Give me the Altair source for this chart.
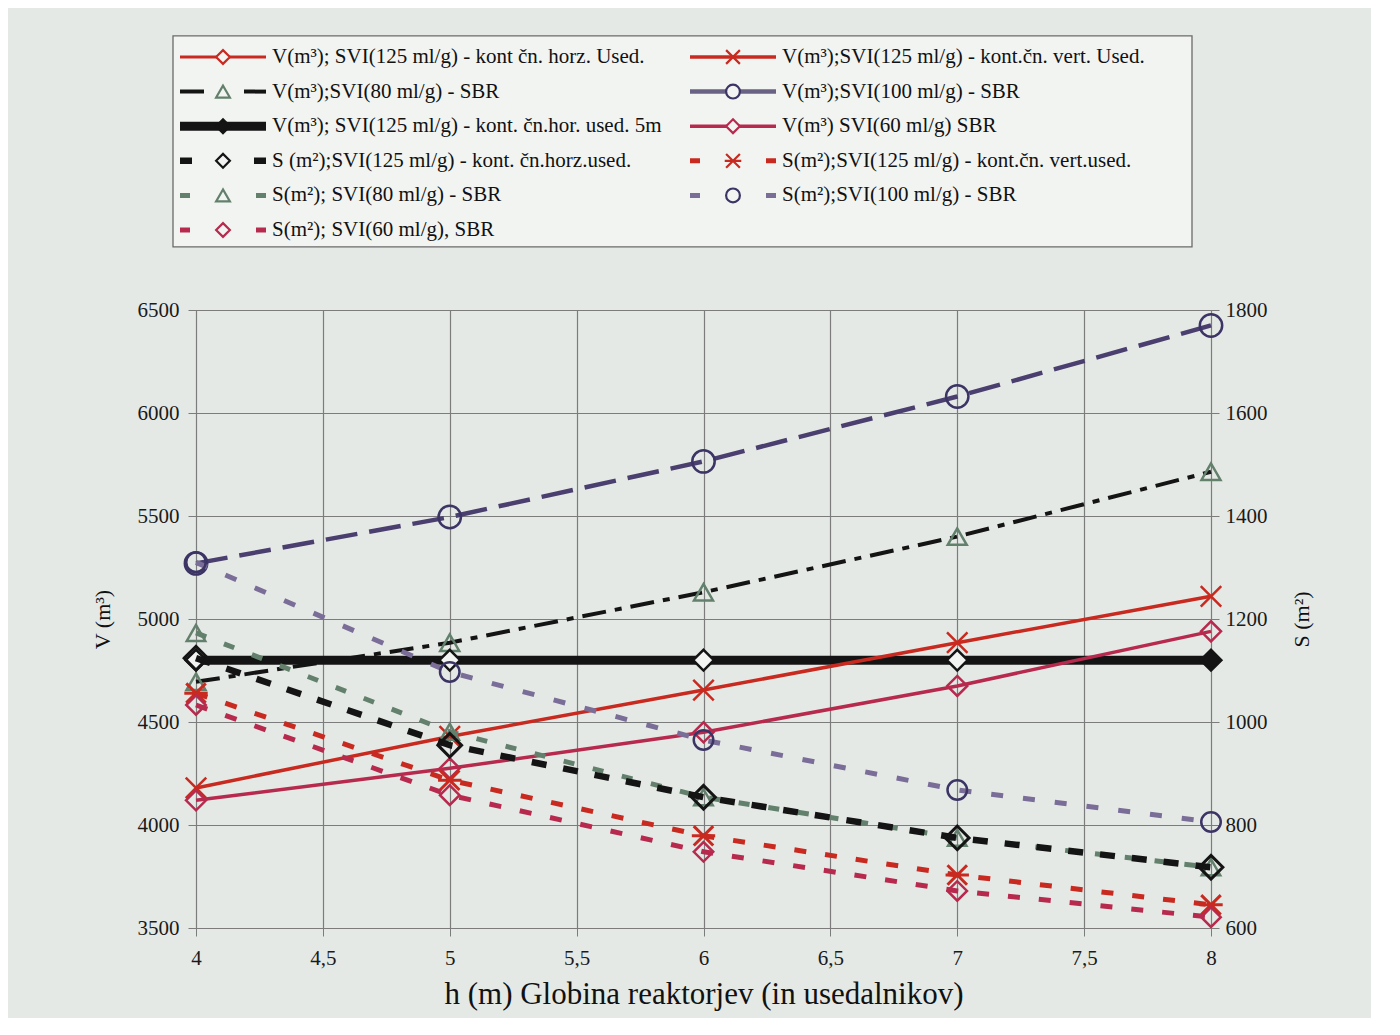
import altair as alt
import pandas as pd

# ---------------- data ----------------
H = [4, 5, 6, 7, 8]

# V (m3) - left axis
V_HORZ_125 = [4800, 4800, 4800, 4800, 4800]      # lies under the thick black line
V_SBR_80 = [4695, 4885, 5130, 5400, 5715]
V_HORZ_125_5M = [4800, 4800, 4800, 4800, 4800]
V_VERT_125 = [4180, 4430, 4655, 4885, 5110]
V_SBR_100 = [5270, 5495, 5765, 6080, 6425]
V_SBR_60 = [4120, 4275, 4450, 4675, 4940]

# S (m2) - right axis
S_HORZ_125 = [1124, 955, 854, 775, 718]
S_SBR_80 = [1173, 981, 854, 775, 718]
S_SBR_60 = [1033, 858, 748, 672, 621]
S_VERT_125 = [1056, 887, 779, 703, 645]
S_SBR_100 = [1310, 1097, 965, 868, 806]

X_TICKS = [4, 4.5, 5, 5.5, 6, 6.5, 7, 7.5, 8]
V_TICKS = [3500, 4000, 4500, 5000, 5500, 6000, 6500]
S_TICKS = [600, 800, 1000, 1200, 1400, 1600, 1800]

LABELS = {
    "v_horz": "V(m³); SVI(125 ml/g) - kont čn. horz. Used.",
    "v_sbr80": "V(m³);SVI(80 ml/g) - SBR",
    "v_5m": "V(m³); SVI(125 ml/g) - kont. čn.hor. used. 5m",
    "s_horz": "S (m²);SVI(125 ml/g) - kont. čn.horz.used.",
    "s_sbr80": "S(m²); SVI(80 ml/g) - SBR",
    "s_sbr60": "S(m²); SVI(60 ml/g),  SBR",
    "v_vert": "V(m³);SVI(125 ml/g) - kont.čn. vert. Used.",
    "v_sbr100": "V(m³);SVI(100 ml/g) - SBR",
    "v_sbr60": "V(m³) SVI(60 ml/g) SBR",
    "s_vert": "S(m²);SVI(125 ml/g) - kont.čn. vert.used.",
    "s_sbr100": "S(m²);SVI(100 ml/g) - SBR",
}
LEGEND_LEFT = ["v_horz", "v_sbr80", "v_5m", "s_horz", "s_sbr80", "s_sbr60"]
LEGEND_RIGHT = ["v_vert", "v_sbr100", "v_sbr60", "s_vert", "s_sbr100"]

V_DATA = {
    "v_horz": V_HORZ_125,
    "v_sbr80": V_SBR_80,
    "v_5m": V_HORZ_125_5M,
    "v_vert": V_VERT_125,
    "v_sbr60": V_SBR_60,
    "v_sbr100": V_SBR_100,
}
S_DATA = {
    "s_sbr80": S_SBR_80,
    "s_horz": S_HORZ_125,
    "s_sbr100": S_SBR_100,
    "s_vert": S_VERT_125,
    "s_sbr60": S_SBR_60,
}

# ---------------- styles ----------------
RED = "#c92a20"
CRIMSON = "#b72a4e"
NAVY = "#3b3464"
PURPLE = "#7a6e98"
GREEN = "#62806b"
BLACK = "#141414"
BG = "#e5e9e6"
LEG_BG = "#f2f4f2"
GRID = "#7c7c7c"
FONT = "Liberation Serif"

X_PATH = "M-1,-1L1,1M-1,1L1,-1"
AST_PATH = "M-1,-1L1,1M-1,1L1,-1M-1.2,0L1.2,0"

STYLE = {
    "v_horz": dict(color=RED, width=3, dash=None, shape="diamond", mcolor=RED, msize=300, mw=2),
    "v_sbr80": dict(color=BLACK, width=4, dash=[24, 9, 7, 9], shape="triangle-up", mcolor=GREEN, msize=360, mw=2.5),
    "v_5m": dict(color=BLACK, width=9, dash=None, shape="diamond", mcolor=BLACK, msize=430, mw=2.5),
    "v_vert": dict(color=RED, width=3.5, dash=None, shape=X_PATH, mcolor=RED, msize=420, mw=2.5),
    "v_sbr60": dict(color=CRIMSON, width=3.5, dash=None, shape="diamond", mcolor=CRIMSON, msize=400, mw=2.5),
    "v_sbr100": dict(color="#4a3f6e", width=4.5, dash=[32, 12], shape="circle", mcolor=NAVY, msize=500, mw=2.5),
    "s_sbr80": dict(color=GREEN, width=5, dash=[11, 19], shape="triangle-up", mcolor=GREEN, msize=340, mw=2.5),
    "s_horz": dict(color=BLACK, width=6.5, dash=[15, 17], shape="diamond", mcolor=BLACK, msize=560, mw=3),
    "s_sbr100": dict(color=PURPLE, width=5, dash=[12, 20], shape="circle", mcolor=NAVY, msize=380, mw=2.5),
    "s_vert": dict(color=RED, width=5, dash=[12, 19], shape=AST_PATH, mcolor=RED, msize=380, mw=3),
    "s_sbr60": dict(color=CRIMSON, width=5, dash=[12, 19], shape="diamond", mcolor=CRIMSON, msize=380, mw=2.5),
}
LEG_DASH = {
    "v_horz": None, "v_5m": None, "v_vert": None, "v_sbr100": None, "v_sbr60": None,
    "v_sbr80": [24, 40],
    "s_horz": [12, 62], "s_sbr80": [10, 66], "s_sbr60": [10, 66],
    "s_vert": [10, 66], "s_sbr100": [10, 66],
}
LEG_COLOR = dict((k, STYLE[k]["color"]) for k in STYLE)
LEG_COLOR["v_sbr100"] = "#6a6284"

# ---------------- layout ----------------
PLOT_W, PLOT_H = 1015, 618
PX_PER_H = PLOT_W / 4.0


def px_to_h(px):
    return 4 + px / PX_PER_H


LEG_COL_PX = [-16, 494]
LEG_LINE_PX = 86
LEG_TEXT_GAP_PX = 6

X_SCALE = alt.Scale(domain=[4, 8], nice=False, zero=False)
V_SCALE = alt.Scale(domain=[3500, 6500], nice=False, zero=False)
S_SCALE = alt.Scale(domain=[600, 1800], nice=False, zero=False)
LEG_Y_SCALE = alt.Scale(domain=[0, 5], range=[-253, -80], nice=False, zero=False)

X_AXIS = alt.Axis(
    values=X_TICKS,
    labelExpr="replace(toString(datum.value), '.', ',')",
    labelFlush=False, labelOverlap=False,
    title="h (m) Globina reaktorjev (in usedalnikov)",
    grid=True, gridColor=GRID, gridWidth=1.2,
    domain=True, domainColor=GRID,
    tickSize=8, tickColor=GRID,
    labelFont=FONT, labelFontSize=21, labelColor="#1a1a1a", labelPadding=11,
    titleFont=FONT, titleFontSize=31, titleFontWeight="normal", titleColor="#111111", titlePadding=11,
)
V_AXIS = alt.Axis(
    orient="left", values=V_TICKS, format="d", title="V (m³)", titleAngle=270,
    grid=True, gridColor=GRID, gridWidth=1.2,
    domain=True, domainColor=GRID, tickSize=8, tickColor=GRID,
    labelFont=FONT, labelFontSize=21, labelColor="#1a1a1a", labelPadding=9,
    titleFont=FONT, titleFontSize=22, titleFontWeight="normal", titleColor="#111111", titlePadding=23,
)
S_AXIS = alt.Axis(
    orient="right", values=S_TICKS, format="d", title="S (m²)", titleAngle=270,
    grid=False, domain=True, domainColor=GRID, tickSize=8, tickColor=GRID,
    labelFont=FONT, labelFontSize=21, labelColor="#1a1a1a", labelPadding=6,
    titleFont=FONT, titleFontSize=22, titleFontWeight="normal", titleColor="#111111", titlePadding=46,
)

layers = []


def xenc(field):
    return alt.X(f"{field}:Q", scale=X_SCALE, axis=X_AXIS)


def add_series(key, values, field, scale, axis):
    st = STYLE[key]
    df = pd.DataFrame({"h": H, field: values})
    yline = alt.Y(f"{field}:Q", scale=scale, axis=axis) if axis is not None else alt.Y(f"{field}:Q", scale=scale, axis=None)
    line_kw = dict(color=st["color"], strokeWidth=st["width"], strokeCap="butt")
    if st["dash"]:
        line_kw["strokeDash"] = st["dash"]
    layers.append(alt.Chart(df).mark_line(**line_kw).encode(x=xenc("h"), y=yline))
    ypt = alt.Y(f"{field}:Q", scale=scale, axis=None)
    if key == "v_5m":
        layers.append(alt.Chart(df).mark_point(
            shape=st["shape"], size=st["msize"], stroke=st["mcolor"], strokeWidth=st["mw"],
            filled=True, opacity=1,
        ).encode(
            x=xenc("h"), y=ypt,
            fill=alt.condition("datum.h == 8", alt.value(BLACK), alt.value(LEG_BG)),
        ))
    else:
        layers.append(alt.Chart(df).mark_point(
            shape=st["shape"], size=st["msize"], color=st["mcolor"], strokeWidth=st["mw"],
            filled=False, opacity=1,
        ).encode(x=xenc("h"), y=ypt))


for i, (k, vals) in enumerate(V_DATA.items()):
    add_series(k, vals, "V", V_SCALE, V_AXIS if i == 0 else None)
for i, (k, vals) in enumerate(S_DATA.items()):
    add_series(k, vals, "S", S_SCALE, S_AXIS if i == 0 else None)

# ---------------- legend ----------------
rows = []
for col, keys in enumerate([LEGEND_LEFT, LEGEND_RIGHT]):
    for r, k in enumerate(keys):
        x0px = LEG_COL_PX[col]
        rows.append(dict(
            key=k, label=LABELS[k], row=r,
            x0=px_to_h(x0px), x1=px_to_h(x0px + LEG_LINE_PX),
            xm=px_to_h(x0px + LEG_LINE_PX / 2), xt=px_to_h(x0px + LEG_LINE_PX + LEG_TEXT_GAP_PX),
        ))
leg_df = pd.DataFrame(rows)

box_df = pd.DataFrame({"x0": [px_to_h(-23)], "x1": [px_to_h(996)], "r0": [-0.61], "r1": [5.49]})
layers.append(alt.Chart(box_df).mark_rect(fill=LEG_BG, stroke="#6a6a6a", strokeWidth=1.3).encode(
    x=xenc("x0"), x2="x1:Q",
    y=alt.Y("r0:Q", scale=LEG_Y_SCALE, axis=None), y2="r1:Q",
))
for k in LEGEND_LEFT + LEGEND_RIGHT:
    st = STYLE[k]
    d = leg_df[leg_df.key == k]
    rkw = dict(color=LEG_COLOR[k], strokeWidth=st["width"] if k != "v_5m" else 9, strokeCap="butt")
    if LEG_DASH[k]:
        rkw["strokeDash"] = LEG_DASH[k]
    layers.append(alt.Chart(d).mark_rule(**rkw).encode(
        x=xenc("x0"), x2="x1:Q",
        y=alt.Y("row:Q", scale=LEG_Y_SCALE, axis=None),
    ))
    layers.append(alt.Chart(d).mark_point(
        shape=st["shape"], size=190, stroke=st["mcolor"], strokeWidth=2.2,
        fill=BLACK if k == "v_5m" else LEG_BG, filled=True, opacity=1,
    ).encode(
        x=xenc("xm"),
        y=alt.Y("row:Q", scale=LEG_Y_SCALE, axis=None),
    ))
layers.append(alt.Chart(leg_df).mark_text(
    align="left", baseline="middle", font=FONT, fontSize=21, color="#111111",
).encode(
    x=xenc("xt"),
    y=alt.Y("row:Q", scale=LEG_Y_SCALE, axis=None),
    text="label:N",
))

chart = alt.layer(*layers).resolve_scale(y="independent").properties(
    width=PLOT_W, height=PLOT_H,
    autosize=alt.AutoSizeParams(type="none"),
    padding={"left": 188, "top": 302, "right": 160, "bottom": 90},
    background=BG,
).configure_view(stroke=GRID, fill=BG)

chart.save("out.html", embed_options={"renderer": "svg", "actions": False})
